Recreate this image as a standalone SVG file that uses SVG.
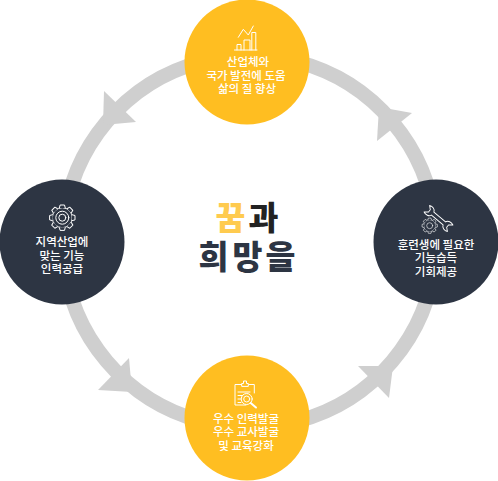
<svg xmlns="http://www.w3.org/2000/svg" width="498" height="481" viewBox="0 0 498 481">
<style>
.lbl{font-family:"Noto Sans CJK KR","Noto Sans",sans-serif;font-size:11.5px;font-weight:500;fill:#fff;text-anchor:middle}
.ttl{font-family:"Noto Sans CJK KR","Noto Sans",sans-serif;font-size:32.5px;font-weight:900}
.arc{fill:none;stroke:#cfcfcf;stroke-width:14.5}
.head{fill:#cfcfcf}
.y{fill:#ffbe21}
.d{fill:#2d3543}
.ico{fill:none;stroke:#fff;stroke-width:1;stroke-linejoin:round;stroke-linecap:round}
.icod{fill:#2d3543;stroke:#fff;stroke-width:1;stroke-linejoin:round}
</style>
<defs>
<g id="gear">
<circle r="10" class="ico"/>
<g id="t4"><path id="tooth" d="M-3-9.6L-2.2-12.7H2.2L3-9.6" class="icod"/><use href="#tooth" transform="rotate(45)"/><use href="#tooth" transform="rotate(90)"/><use href="#tooth" transform="rotate(135)"/></g>
<use href="#t4" transform="rotate(180)"/>
</g>
</defs>
<g id="connectors">
<path class="arc" d="M201.500 61.800A186 186 0 0 0 63.700 225"/>
<polygon class="head" points="104,91 136,122 103,125"/>
<path class="arc" d="M63.700 258A186 186 0 0 0 201.500 421.200"/>
<polygon class="head" points="129,358 98,390 132,392"/>
<path class="arc" d="M297.500 421.200A186 186 0 0 0 435.300 258"/>
<polygon class="head" points="358,366 389,398 393,366"/>
<path class="arc" d="M435.300 225A186 186 0 0 0 297.500 61.800"/>
<polygon class="head" points="412,113 377,141 379,107"/>
</g>
<g id="node-top">
<circle class="y" cx="247" cy="62" r="62.500"/>
<g class="ico">
<path d="M234.500 50H257M237 50V44.500H241V50M244 50V40H250V50M251.800 50V32.500H255.800V50"/>
<path d="M238.300 37.300L243.300 29.300L248.300 35L253.300 26"/>
</g>
<text class="lbl"><tspan x="248" y="66">산업체와</tspan><tspan x="246" y="80">국가 발전에 도움</tspan><tspan x="247" y="93">삶의 질 향상</tspan></text>
</g>
<g id="node-left">
<circle class="d" cx="62" cy="242" r="62.500"/>
<g transform="translate(62.300 217.700)">
<use href="#gear"/>
<circle r="6.500" class="ico"/><circle r="3.500" class="ico"/>
</g>
<text class="lbl"><tspan x="62" y="246">지역산업에</tspan><tspan x="62" y="260">맞는 기능</tspan><tspan x="62" y="273">인력공급</tspan></text>
</g>
<g id="node-right">
<circle class="d" cx="436" cy="242" r="62.500"/>
<path class="icod" transform="translate(438.500 218.500) rotate(40) scale(.95)" d="M-8-2L8-2C9-5 13-6 16-4.500L12.500-1.500V1.500L16 4.500C13 6 9 5 8 2L-8 2C-9 5-13 6-16 4.500L-12.500 1.500V-1.500L-16-4.500C-13-6-9-5-8-2Z"/>
<g transform="translate(429.700 225.700) scale(.6)">
<circle r="10" class="d"/>
<use href="#gear"/>
<circle r="5" class="ico"/>
</g>
<text class="lbl"><tspan x="436" y="249">훈련생에 필요한</tspan><tspan x="436" y="262">기능습득</tspan><tspan x="436" y="276">기회제공</tspan></text>
</g>
<g id="node-bottom">
<circle class="y" cx="247" cy="418" r="62.500"/>
<g class="ico">
<path d="M241.500 384.500H235V405H246M249 384.500H254.300V393"/>
<path d="M241.700 386V383.500H243.500V381H246.500V383.500H248.300V386Z"/>
<path d="M238 392H250M238 395.500H242M238 399H240.500M238 402.500H241"/>
<circle cx="246.700" cy="399" r="5.500"/>
<circle cx="246.700" cy="399" r="3"/>
<path d="M250.700 403L256 407.500" stroke-width="2"/>
</g>
<text class="lbl"><tspan x="246" y="423">우수 인력발굴</tspan><tspan x="246" y="436">우수 교사발굴</tspan><tspan x="246" y="450">및 교육강화</tspan></text>
</g>
<g id="title">
<text class="ttl" fill="#ffcb4f" x="215.500" y="230">꿈</text>
<text class="ttl" fill="#222222" x="248.500" y="230">과</text>
<text class="ttl" fill="#2d3543" x="198.500" y="269">희</text>
<text class="ttl" fill="#2d3543" x="232.500" y="269">망</text>
<text class="ttl" fill="#2d3543" x="265.500" y="269">을</text>
</g>
</svg>
